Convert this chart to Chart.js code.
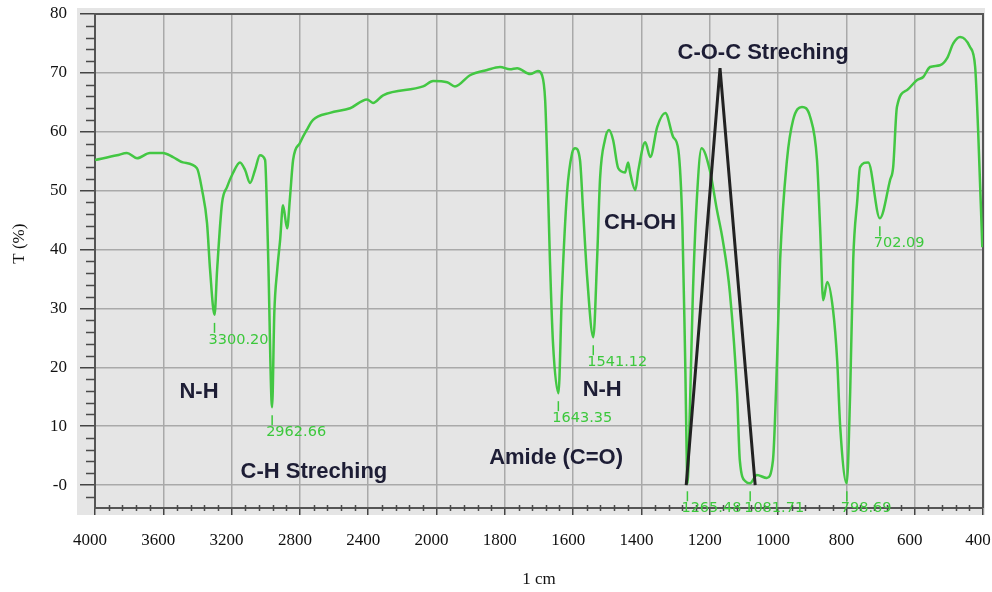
<!DOCTYPE html>
<html>
<head>
<meta charset="utf-8">
<title>FTIR spectrum</title>
<script src="https://cdn.jsdelivr.net/npm/chart.js@4/dist/chart.umd.min.js"></script>
<style>
  html, body { margin: 0; padding: 0; background: #fff; }
  canvas { display: block; }
</style>
</head>
<body>
<canvas id="ftirChart" width="992" height="592"></canvas>
<script>
'use strict';

/* ── axis tick labels (cm-1), evenly spaced on the plot ── */
const tickLabels = [4000, 3600, 3200, 2800, 2400, 2000, 1800, 1600, 1400, 1200, 1000, 800, 600, 400];

/* ── spectrum ── */
const wavenumber = [
    4000, 3871, 3813, 3754, 3678, 3602, 3543, 3485, 3403, 3373, 3344, 3326, 3300, 3285, 3256, 3227,
    3192, 3151, 3121, 3092, 3063, 3034, 3004, 2995, 2985, 2963, 2950, 2933, 2916, 2899, 2875, 2858,
    2840, 2800, 2760, 2723, 2624, 2506, 2407, 2372, 2313, 2079, 2020, 1969, 1946, 1902, 1852, 1814,
    1785, 1764, 1726, 1703, 1691, 1682, 1676, 1668, 1659, 1643, 1633, 1618, 1603, 1594, 1580, 1571,
    1559, 1541, 1530, 1521, 1507, 1495, 1483, 1468, 1448, 1439, 1433, 1418, 1409, 1389, 1374, 1354,
    1330, 1307, 1292, 1280, 1272, 1265, 1259, 1250, 1238, 1224, 1200, 1179, 1162, 1141, 1120, 1112,
    1095, 1082, 1062, 1033, 1015, 1003, 994, 974, 956, 930, 906, 886, 877, 868, 856, 839,
    827, 818, 799, 789, 780, 768, 760, 736, 702, 672, 663, 652, 622, 593, 575, 555,
    526, 505, 487, 467, 438, 423, 414, 402
];
const transmittance = [
    55.2, 56.0, 56.4, 55.5, 56.4, 56.4, 55.7, 54.8, 53.8, 50.1, 44.5, 36.5, 28.9, 36.5, 47.9, 50.6,
    53.0, 54.8, 53.5, 51.3, 53.5, 56.0, 55.2, 48.9, 37.7, 13.2, 29.2, 36.5, 41.6, 47.5, 43.6, 48.9,
    55.2, 58.1, 60.3, 62.0, 63.2, 64.0, 65.5, 64.9, 66.2, 67.7, 68.6, 68.4, 67.7, 69.6, 70.5, 71.0,
    70.6, 70.8, 69.8, 70.3, 69.6, 65.4, 55.2, 38.2, 24.1, 15.6, 32.6, 49.6, 56.4, 57.2, 55.2, 46.7,
    35.3, 25.1, 38.2, 52.3, 58.6, 60.3, 58.6, 53.8, 53.1, 54.8, 53.0, 50.1, 53.5, 58.2, 55.7, 60.8,
    63.2, 59.1, 56.9, 43.8, 21.2, 0.3, 11.0, 31.4, 48.4, 57.2, 53.5, 46.7, 41.6, 32.6, 15.6, 4.2,
    0.6, 0.3, 1.7, 1.2, 4.2, 21.2, 38.2, 55.2, 62.0, 64.2, 62.5, 55.2, 43.8, 31.4, 34.5, 29.7,
    21.2, 9.8, 0.3, 15.6, 38.2, 48.4, 54.0, 54.8, 45.3, 51.8, 54.0, 64.2, 67.1, 68.8, 69.3, 71.0,
    71.3, 72.5, 75.0, 76.1, 74.4, 71.0, 59.8, 40.4
];

/* ── black C-O-C marker ── */
const cocWavenumber = [1269, 1170, 1067];
const cocTransmittance = [0, 70.8, 0];

/* ── peak picks ── */
const peakWavenumber = [3300.20, 2962.66, 1643.35, 1541.12, 1265.48, 1081.71, 798.69, 702.09];
const peakTransmittance = [28.9, 13.2, 15.6, 25.1, 0.3, 0.3, 0.3, 45.3];
const peakText = ['3300.20', '2962.66', '1643.35', '1541.12', '1265.48', '1081.71', '798.69', '702.09'];

/* ── band assignments ── */
const bandText = ['N-H', 'C-H Streching', 'Amide (C=O)', 'N-H', 'CH-OH', 'C-O-C Streching'];
const bandWavenumber = [3391, 2718, 1650, 1515, 1404, 1044];
const bandTransmittance = [15.8, 2.2, 4.6, 16.1, 44.5, 73.4];

/* wavenumber -> position on the evenly spaced tick grid */
function toAxis(wn) {
    for (let i = 0; i < tickLabels.length - 1; i++) {
        if (wn >= tickLabels[i + 1]) {
            return i + (tickLabels[i] - wn) / (tickLabels[i] - tickLabels[i + 1]);
        }
    }
    return tickLabels.length - 1;
}

const SERIF = '"Liberation Serif", "Times New Roman", serif';
const SANS = '"Liberation Sans", Arial, sans-serif';

/* gray plot panel, frame, minor ticks, labels */
const panelPlugin = {
    id: 'panel',
    beforeDraw(chart) {
        const { ctx, chartArea: a } = chart;
        ctx.save();
        ctx.fillStyle = '#ffffff';
        ctx.fillRect(0, 0, chart.width, chart.height);
        ctx.fillStyle = '#e5e5e5';
        ctx.fillRect(a.left - 18, a.top - 6, a.right - a.left + 20, a.bottom - a.top + 13);
        ctx.restore();
    },
    beforeDatasetsDraw(chart) {
        const { ctx, chartArea: a, scales: { x, y } } = chart;
        ctx.save();
        ctx.strokeStyle = '#4a4a4a';
        ctx.lineWidth = 1.5;
        ctx.beginPath();
        for (let v = -2; v <= 80; v += 2) {
            if (v % 10 === 0) continue;
            const py = Math.round(y.getPixelForValue(v)) + 0.5;
            ctx.moveTo(a.left - 9, py);
            ctx.lineTo(a.left, py);
        }
        for (let k = 1; k < (tickLabels.length - 1) * 5; k++) {
            if (k % 5 === 0) continue;
            const px = Math.round(x.getPixelForValue(k / 5)) + 0.5;
            ctx.moveTo(px, a.bottom - 3);
            ctx.lineTo(px, a.bottom + 3);
        }
        ctx.stroke();
        // top and right frame
        ctx.strokeStyle = '#555555';
        ctx.lineWidth = 2;
        ctx.beginPath();
        ctx.moveTo(a.left, a.top);
        ctx.lineTo(a.right, a.top);
        ctx.lineTo(a.right, a.bottom);
        ctx.stroke();
        ctx.restore();
    },
    afterDatasetsDraw(chart) {
        const { ctx, scales: { x, y } } = chart;
        ctx.save();
        // peak picks
        ctx.strokeStyle = '#3cc83c';
        ctx.fillStyle = '#3cc83c';
        ctx.lineWidth = 1.5;
        ctx.font = '14.5px "DejaVu Sans", sans-serif';
        ctx.textAlign = 'left';
        ctx.textBaseline = 'middle';
        peakWavenumber.forEach((wn, i) => {
            const px = x.getPixelForValue(toAxis(wn));
            const py = y.getPixelForValue(peakTransmittance[i]);
            ctx.beginPath();
            ctx.moveTo(px, py + 8);
            ctx.lineTo(px, py + 18);
            ctx.stroke();
            ctx.fillText(peakText[i], px - 6, py + 25);
        });
        // band labels
        ctx.fillStyle = '#1d1d35';
        ctx.font = 'bold 22px ' + SANS;
        ctx.textAlign = 'center';
        bandText.forEach((t, i) => {
            ctx.fillText(t, x.getPixelForValue(toAxis(bandWavenumber[i])), y.getPixelForValue(bandTransmittance[i]));
        });
        // y title
        ctx.fillStyle = '#111';
        ctx.font = '17px ' + SERIF;
        ctx.translate(20, y.getPixelForValue(41));
        ctx.rotate(-Math.PI / 2);
        ctx.fillText('T (%)', 0, 0);
        ctx.restore();
    }
};

new Chart(document.getElementById('ftirChart'), {
    type: 'line',
    data: {
        datasets: [
            {
                label: 'C-O-C',
                data: cocWavenumber.map((w, i) => ({ x: toAxis(w), y: cocTransmittance[i] })),
                borderColor: '#222222',
                borderWidth: 3,
                pointRadius: 0,
                tension: 0,
                order: 0,
            },
            {
                label: 'Spectrum',
                data: wavenumber.map((w, i) => ({ x: toAxis(w), y: transmittance[i] })),
                borderColor: '#43c743',
                borderWidth: 2.5,
                pointRadius: 0,
                cubicInterpolationMode: 'monotone',
                order: 1,
            },
        ],
    },
    options: {
        responsive: false,
        animation: false,
        devicePixelRatio: 1,
        layout: { padding: { top: 14, right: 9, left: 0, bottom: 0 } },
        plugins: {
            legend: { display: false },
            tooltip: { enabled: false },
        },
        scales: {
            x: {
                type: 'linear',
                min: 0,
                max: tickLabels.length - 1,
                afterFit: s => { s.height = 84; s.paddingLeft = 0; s.paddingRight = 0; },
                ticks: {
                    stepSize: 1,
                    autoSkip: false,
                    maxRotation: 0,
                    padding: 15,
                    labelOffset: -5,
                    color: '#111',
                    font: { family: SERIF, size: 17 },
                    callback: v => tickLabels[v],
                },
                grid: { color: '#a9a9a9', lineWidth: 1.5, tickLength: 7, tickColor: '#444' },
                border: { color: '#555', width: 2 },
                title: {
                    display: true,
                    text: '1 cm',
                    color: '#111',
                    font: { family: SERIF, size: 17 },
                    padding: { top: 0, bottom: 2 },
                },
            },
            y: {
                min: -3.9,
                max: 80,
                afterFit: s => { s.width = 95; s.paddingTop = 0; s.paddingBottom = 0; },
                ticks: {
                    stepSize: 10,
                    includeBounds: false,
                    padding: 13,
                    color: '#111',
                    font: { family: SERIF, size: 17 },
                    callback: v => v === 0 ? '-0' : v,
                },
                grid: { color: '#a9a9a9', lineWidth: 1.5, tickLength: 15, tickColor: '#444' },
                border: { color: '#555', width: 2 },
            },
        },
    },
    plugins: [panelPlugin],
});
</script>
</body>
</html>
